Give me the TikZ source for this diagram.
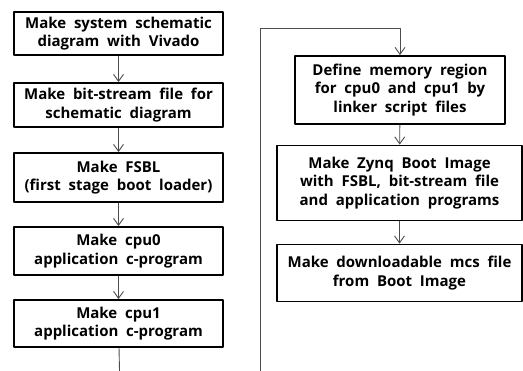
\documentclass[tikz,border=0pt]{standalone}
\usepackage{fontspec}
\setmainfont[WordSpace=2]{Open Sans}
\usetikzlibrary{arrows.meta}

\tikzset{
  stepbox/.style={draw=black,line width=1.8pt,align=center,inner sep=1pt,
    font=\bfseries\fontsize{15}{18.5}\selectfont},
  flow/.style={draw=black!70,line width=0.9pt},
}

\begin{document}
\begin{tikzpicture}[x=1pt,y=-1pt,line join=round,>={Straight Barb[length=7pt,width=10pt]}]
	\useasboundingbox (0,0) rectangle (523,371);
	
	% left column
	\node[stepbox,minimum width=209pt,minimum height=43pt] (sch) at (118.5,33.5) {Make system schematic\\diagram with Vivado};
	\node[stepbox,minimum width=209pt,minimum height=44pt] (bit) at (118.5,105) {Make bit-stream file for\\schematic diagram};
	\node[stepbox,minimum width=209pt,minimum height=49pt] (fsbl) at (118.5,177.5) {Make FSBL\\(first stage boot loader)};
	\node[stepbox,minimum width=209pt,minimum height=48pt] (cpua) at (118.5,251) {Make cpu0\\application c-program};
	\node[stepbox,minimum width=209pt,minimum height=47pt] (cpub) at (118.5,323.5) {Make cpu1\\application c-program};
	
	% right column
	\node[stepbox,minimum width=210pt,minimum height=68pt] (mem) at (400,90) {Define memory region\\for cpu0 and cpu1 by\\linker script files};
	\node[stepbox,minimum width=245pt,minimum height=75pt] (img) at (399.5,183) {Make Zynq Boot Image\\with FSBL, bit-stream file\\and application programs};
	\node[stepbox,minimum width=245pt,minimum height=57pt] (mcs) at (399.5,273) {Make downloadable mcs file\\from Boot Image};
	
	\coordinate (leftend) at (119.5,371);
	\coordinate (rightend) at (260,371);
	\coordinate (turn) at (260,28);
	\coordinate (above) at (mem.north |- turn);
	
	\draw[flow,->] (sch) -- (bit);
	\draw[flow,->] (bit) -- (fsbl);
	\draw[flow,->] (fsbl) -- (cpua);
	\draw[flow,->] (cpua) -- (cpub);
	\draw[flow] (cpub) -- (leftend);
	
	\draw[flow,->] (rightend) -- (turn) -- (above) -- (mem);
	\draw[flow,->] (mem) -- (img);
	\draw[flow,->] (img) -- (mcs);
\end{tikzpicture}
\end{document}
